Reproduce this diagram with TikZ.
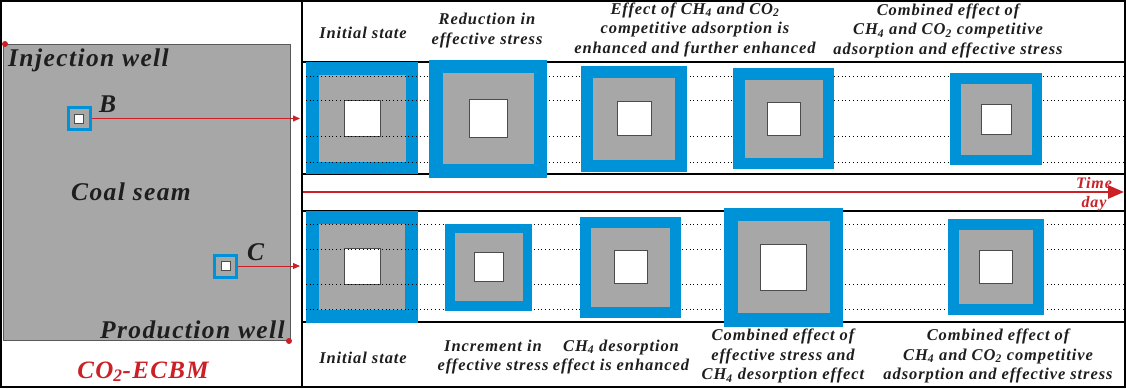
\documentclass[tikz,border=0pt]{standalone}
\usepackage{fontspec}
\setmainfont{Liberation Serif}[LetterSpace=5.5]
\usetikzlibrary{arrows.meta}

\definecolor{cleatblue}{RGB}{0,146,214}
\definecolor{seamgray}{RGB}{167,167,167}
\definecolor{ecbmred}{RGB}{204,32,39}
\definecolor{inkblack}{RGB}{30,30,30}

\tikzset{
  lbl/.style={font=\fontsize{16.5}{19.5}\selectfont\bfseries\itshape, align=center, inner sep=0pt, text=inkblack},
  biglbl/.style={font=\fontsize{25.5}{28}\selectfont\bfseries\itshape, inner sep=0pt, text=inkblack},
  dotline/.style={dash pattern=on 0.8pt off 3pt, line width=0.8pt},
  bandline/.style={line width=1.2pt},
  probe/.style={draw=cleatblue, line width=3pt, fill=seamgray, minimum size=22pt, inner sep=0pt},
  probecore/.style={draw=black!70, line width=0.6pt, fill=white, minimum size=9pt, inner sep=0pt},
  linkarrow/.style={draw=ecbmred, line width=0.9pt, -{Triangle[length=7pt,width=6pt]}},
  welldot/.style={circle, fill=ecbmred, inner sep=0pt, minimum size=6pt},
}

\begin{document}
\begin{tikzpicture}[x=1pt, y=-1pt]
  \useasboundingbox (0,0) rectangle (1126,388);

  % coal seam block
  \fill[seamgray, draw=gray!70!black, line width=0.6pt] (3,44) rectangle (290,340);
  \node[welldot] (inj) at (5,44) {};
  \node[welldot] (prod) at (289,341) {};
  \node[biglbl, anchor=base west] (injlbl) at (8,66) {Injection well};
  \node[biglbl, anchor=base] (seamlbl) at (131,200) {Coal seam};
  \node[biglbl, anchor=base east] (prodlbl) at (285,338) {Production well};
  \node[biglbl, anchor=base, text=ecbmred, font=\fontsize{25}{27}\selectfont\bfseries\itshape] (ecbm) at (143,378) {CO\textsubscript{2}-ECBM};

  % points B and C
  \node[probe] (ptB) at (79,118.5) {};
  \node[probecore] (coreB) at (ptB) {};
  \node[biglbl, anchor=base west] (lblB) at (99,112) {B};
  \node[probe] (ptC) at (225.5,266) {};
  \node[probecore] (coreC) at (ptC) {};
  \node[biglbl, anchor=base west] (lblC) at (247,260) {C};
  \coordinate (toB) at (300,118.5);
  \coordinate (toC) at (300,266);
  \draw[linkarrow] (ptB) -- (toB);
  \draw[linkarrow] (ptC) -- (toC);

  % bands
  \foreach \y in {62,174,211,322}
    \draw[bandline] (302,\y) -- (1124,\y);

  % initial state (dotted lines run over it)
  \foreach \cx/\cy/\a/\g/\w in {362/118/56/43.5/18, 362/266.5/56/43/18}{
    \fill[cleatblue] (\cx-\a,\cy-\a) rectangle (\cx+\a,\cy+\a);
    \fill[seamgray] (\cx-\g,\cy-\g) rectangle (\cx+\g,\cy+\g);
    \draw[fill=white, draw=black!70, line width=0.6pt] (\cx-\w,\cy-\w) rectangle (\cx+\w,\cy+\w);
  }
  \foreach \y in {76,100,136,162,224,249,284,309}
    \draw[dotline] (302,\y) -- (1124,\y);

  % later states
  \foreach \cx/\cy/\a/\g/\w in {488/118.5/59/45.5/19, 634/118.5/53/41/17, 783.5/118.5/50.5/39/16.5,
      996/119/46/35.5/15, 488.5/267/43.5/34/14.5, 630.5/267/50.5/39.5/16.5,
      783.5/267/59.5/46/23, 996/266.5/48/37/16.5}{
    \fill[cleatblue] (\cx-\a,\cy-\a) rectangle (\cx+\a,\cy+\a);
    \fill[seamgray] (\cx-\g,\cy-\g) rectangle (\cx+\g,\cy+\g);
    \draw[fill=white, draw=black!70, line width=0.6pt] (\cx-\w,\cy-\w) rectangle (\cx+\w,\cy+\w);
  }

  % time axis
  \coordinate (tstart) at (302,192);
  \coordinate (tend) at (1124,192);
  \draw[ecbmred, line width=2.8pt, -{Triangle[length=16pt,width=13pt]}] (tstart) -- (tend);
  \node[lbl, text=ecbmred, font=\fontsize{16}{19}\selectfont\bfseries\itshape] (timelbl) at (1094,194) {Time\\day};

  % top labels
  \node[lbl] (top1) at (363,33) {Initial state};
  \node[lbl] (top2) at (487,30.5) {Reduction in\\effective stress};
  \node[lbl] (top3) at (695,29.5) {Effect of CH\textsubscript{4} and CO\textsubscript{2}\\competitive adsorption is\\enhanced and further enhanced};
  \node[lbl] (top4) at (948,30.5) {Combined effect of\\CH\textsubscript{4} and CO\textsubscript{2} competitive\\adsorption and effective stress};

  % bottom labels
  \node[lbl] (bot1) at (363,358) {Initial state};
  \node[lbl] (bot2) at (493,357) {Increment in\\effective stress};
  \node[lbl] (bot3) at (621,357) {CH\textsubscript{4} desorption\\effect is enhanced};
  \node[lbl] (bot4) at (783,356) {Combined effect of\\effective stress and\\CH\textsubscript{4} desorption effect};
  \node[lbl] (bot5) at (998,356) {Combined effect of\\CH\textsubscript{4} and CO\textsubscript{2} competitive\\adsorption and effective stress};

  % frame
  \draw[line width=2.5pt] (1,1) rectangle (1125,387);
  \draw[line width=2.5pt] (302,0) -- (302,388);
\end{tikzpicture}
\end{document}
